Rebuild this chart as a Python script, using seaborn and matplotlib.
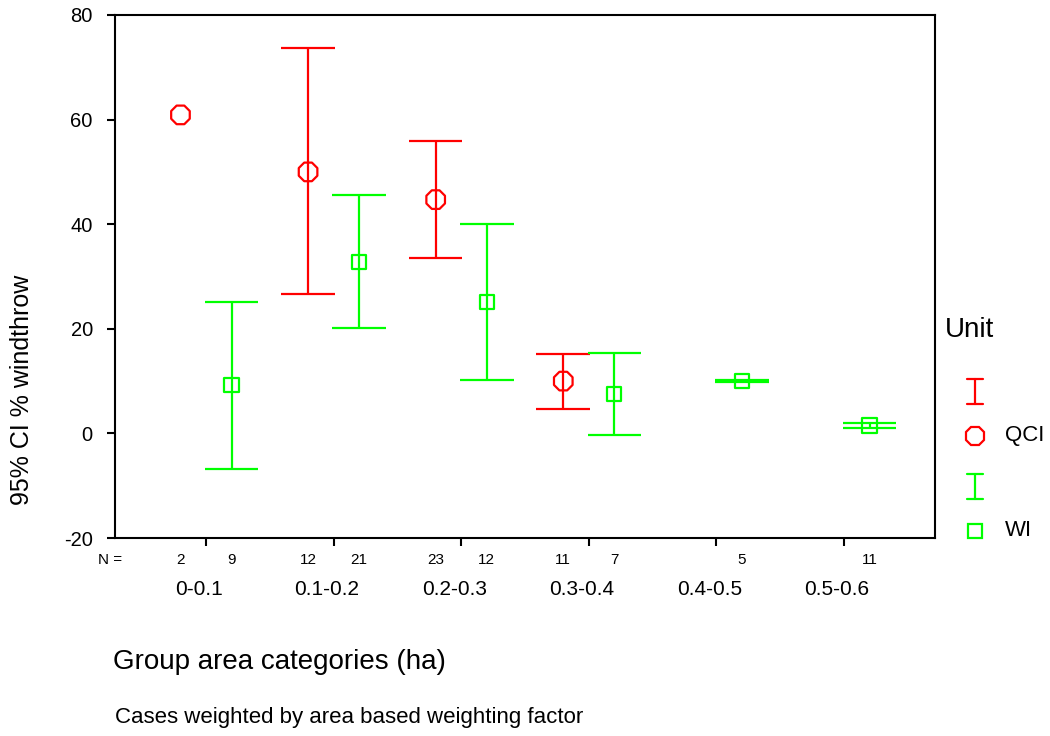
import numpy as np
import pandas as pd
import matplotlib
matplotlib.use("Agg")
import matplotlib.pyplot as plt
from matplotlib.transforms import ScaledTranslation, blended_transform_factory
from matplotlib.lines import Line2D
import seaborn as sns

sns.set_style("ticks")
plt.rcParams["font.family"] = ["Liberation Sans", "DejaVu Sans"]
plt.rcParams["axes.unicode_minus"] = False
for key in ["text.color", "xtick.color", "ytick.color", "axes.labelcolor"]:
    plt.rcParams[key] = "black"

# area categories and the two units
categories = ["0-0.1", "0.1-0.2", "0.2-0.3", "0.3-0.4", "0.4-0.5", "0.5-0.6"]

qci_mean = [60.9, 50.0, 44.7, 10.0, np.nan, np.nan]
qci_lo = [np.nan, 26.6, 33.5, 4.6, np.nan, np.nan]
qci_hi = [np.nan, 73.6, 55.9, 15.1, np.nan, np.nan]
qci_n = [2, 12, 23, 11, None, None]

wi_mean = [9.2, 32.8, 25.1, 7.6, 10.0, 1.5]
wi_lo = [-6.9, 20.1, 10.3, -0.4, 9.8, 1.1]
wi_hi = [25.1, 45.6, 40.1, 15.4, 10.2, 1.9]
wi_n = [9, 21, 12, 7, 5, 11]

red = "#ff0000"
green = "#00ff00"
units = {"QCI": (qci_mean, qci_lo, qci_hi, qci_n, -0.2, red, "8", 210),
         "WI": (wi_mean, wi_lo, wi_hi, wi_n, 0.2, green, "s", 105)}

fig = plt.figure(figsize=(10.5, 7.36), dpi=100)
ax = fig.add_axes([115 / 1050, 1 - 538 / 736, 820 / 1050, 523 / 736])

cap = 0.21
n_trans = blended_transform_factory(ax.transData, ax.transAxes)
for name, (mean, lo, hi, n, off, col, mk, sz) in units.items():
    df = pd.DataFrame({"pos": np.arange(len(categories)) + off,
                       "mean": mean, "lo": lo, "hi": hi, "n": n})
    ci = df.dropna(subset=["lo", "hi"])
    ax.vlines(ci["pos"], ci["lo"], ci["hi"], color=col, lw=1.6)
    ax.hlines(ci["lo"], ci["pos"] - cap, ci["pos"] + cap, color=col, lw=1.6)
    ax.hlines(ci["hi"], ci["pos"] - cap, ci["pos"] + cap, color=col, lw=1.6)
    pts = df.dropna(subset=["mean"])
    sns.scatterplot(data=pts, x="pos", y="mean", marker=mk, s=sz,
                    facecolor="none", edgecolor=col, linewidth=1.6,
                    zorder=3, ax=ax)
    for _, r in df.dropna(subset=["n"]).iterrows():
        ax.text(r["pos"], -0.042, f"{int(r['n'])}", transform=n_trans,
                ha="center", va="center", fontsize=11)

ax.set_xlim(-0.713, 5.713)
ax.set_ylim(-20, 80)
ax.set_yticks([-20, 0, 20, 40, 60, 80])
ax.set_xticks(range(len(categories)))
ax.set_xticklabels(categories)
ax.set_xlabel("")
ax.set_ylabel("")
for s in ax.spines.values():
    s.set_visible(True)
    s.set_linewidth(1.5)
    s.set_color("black")
ax.tick_params(axis="y", direction="out", length=6, width=1.5, labelsize=14.5, pad=10)
ax.tick_params(axis="x", direction="out", length=6, width=1.5, labelsize=15, pad=24)
for lab in ax.get_xticklabels():
    lab.set_transform(lab.get_transform() + ScaledTranslation(-0.07, 0, fig.dpi_scale_trans))

fig.text(110 / 1050, 1 - 560 / 736, "N =", ha="center", va="center", fontsize=11)
fig.text(22 / 1050, 1 - 390 / 736, "95% CI % windthrow", rotation=90,
         ha="center", va="center", fontsize=18)
fig.text(113 / 1050, 1 - 662 / 736, "Group area categories (ha)",
         ha="left", va="center", fontsize=20)
fig.text(115 / 1050, 1 - 718 / 736, "Cases weighted by area based weighting factor",
         ha="left", va="center", fontsize=16)

# legend drawn in pixel space
lax = fig.add_axes([0, 0, 1, 1], zorder=5)
lax.set_xlim(0, 1050)
lax.set_ylim(736, 0)
lax.axis("off")
lax.text(945, 330, "Unit", ha="left", va="center", fontsize=20)
for col, top, bot in [(red, 379, 404), (green, 474, 499)]:
    lax.add_line(Line2D([975, 975], [top, bot], color=col, lw=1.6))
    lax.add_line(Line2D([967, 983], [top, top], color=col, lw=1.6))
    lax.add_line(Line2D([967, 983], [bot, bot], color=col, lw=1.6))
lax.plot([975], [436], marker="8", ms=14, mfc="none", mec=red, mew=1.6)
lax.plot([975], [531], marker="s", ms=10, mfc="none", mec=green, mew=1.6)
lax.text(1005, 436, "QCI", ha="left", va="center", fontsize=16)
lax.text(1005, 531, "WI", ha="left", va="center", fontsize=16)

fig.savefig("out.png", dpi=100)
